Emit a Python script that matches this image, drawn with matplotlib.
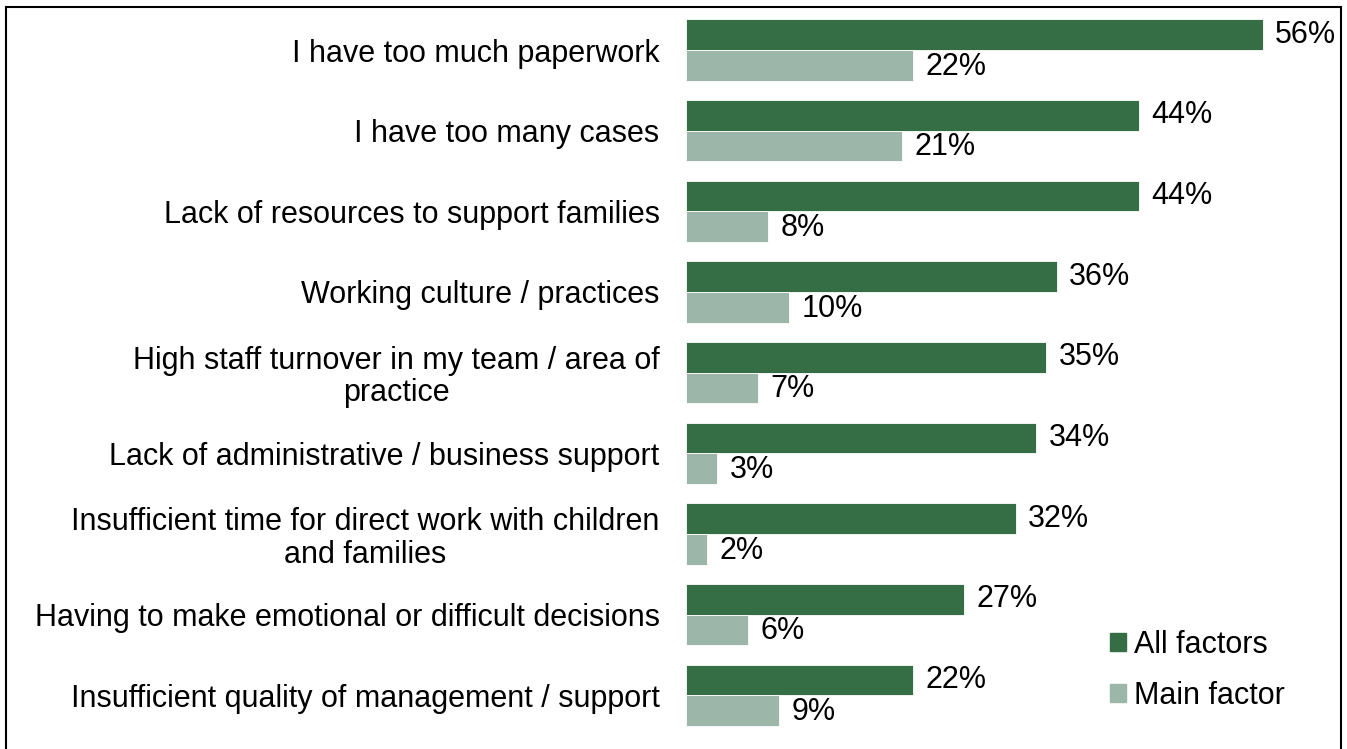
import matplotlib.pyplot as plt
import matplotlib.patches as mpatches
import numpy as np

plt.rcParams["font.family"] = ["Liberation Sans", "DejaVu Sans"]

categories = [
    "I have too much paperwork",
    "I have too many cases",
    "Lack of resources to support families",
    "Working culture / practices",
    "High staff turnover in my team / area of\npractice",
    "Lack of administrative / business support",
    "Insufficient time for direct work with children\nand families",
    "Having to make emotional or difficult decisions",
    "Insufficient quality of management / support",
]
all_factors = [56, 44, 44, 36, 35, 34, 32, 27, 22]
main_factor = [22, 21, 8, 10, 7, 3, 2, 6, 9]

DARK = "#356e44"
LIGHT = "#9cb7aa"
FS = 22

fig = plt.figure(figsize=(13.47, 7.49), dpi=100)
ax = fig.add_axes([686 / 1347, 1 - 735.5 / 749, (1340 - 686) / 1347, (735.5 - 9.7) / 749])

y = np.arange(len(categories))
h = 0.38
ax.barh(y - h / 2, all_factors, height=h, color=DARK, edgecolor="white", linewidth=0.6)
ax.barh(y + h / 2, main_factor, height=h, color=LIGHT, edgecolor="white", linewidth=0.6)

for yi, v in zip(y, all_factors):
    ax.annotate(f"{v}%", (v, yi - h / 2), xytext=(9, 0), textcoords="offset points",
                va="center", ha="left", fontsize=FS)
for yi, v in zip(y, main_factor):
    ax.annotate(f"{v}%", (v, yi + h / 2), xytext=(9, -1), textcoords="offset points",
                va="center", ha="left", fontsize=FS)

ax.set_xlim(0, 63.5)
ax.set_ylim(len(categories) - 0.5, -0.5)
ax.set_yticks(y)
ax.set_yticklabels(categories, fontsize=FS, ha="right", multialignment="center",
                   linespacing=1.1)
ax.tick_params(axis="y", length=0, pad=19)
ax.set_xticks([])
for side in ax.spines.values():
    side.set_visible(False)

handles = [
    mpatches.Patch(color=DARK, label="All factors"),
    mpatches.Patch(color=LIGHT, label="Main factor"),
]
fig.legend(handles=handles, loc="center left", bbox_to_anchor=(1110 / 1347, 1 - 670.5 / 749),
           frameon=False, fontsize=FS, handlelength=0.52, handleheight=0.52,
           handletextpad=0.26, labelspacing=0.68, borderpad=0, borderaxespad=0)

fig.patches.append(mpatches.Rectangle((6 / 1347, -0.02), (1341 - 6) / 1347, 1.02 - 7 / 749,
                                      transform=fig.transFigure, fill=False,
                                      edgecolor="black", linewidth=1.5))

fig.savefig("out.png", dpi=100)
